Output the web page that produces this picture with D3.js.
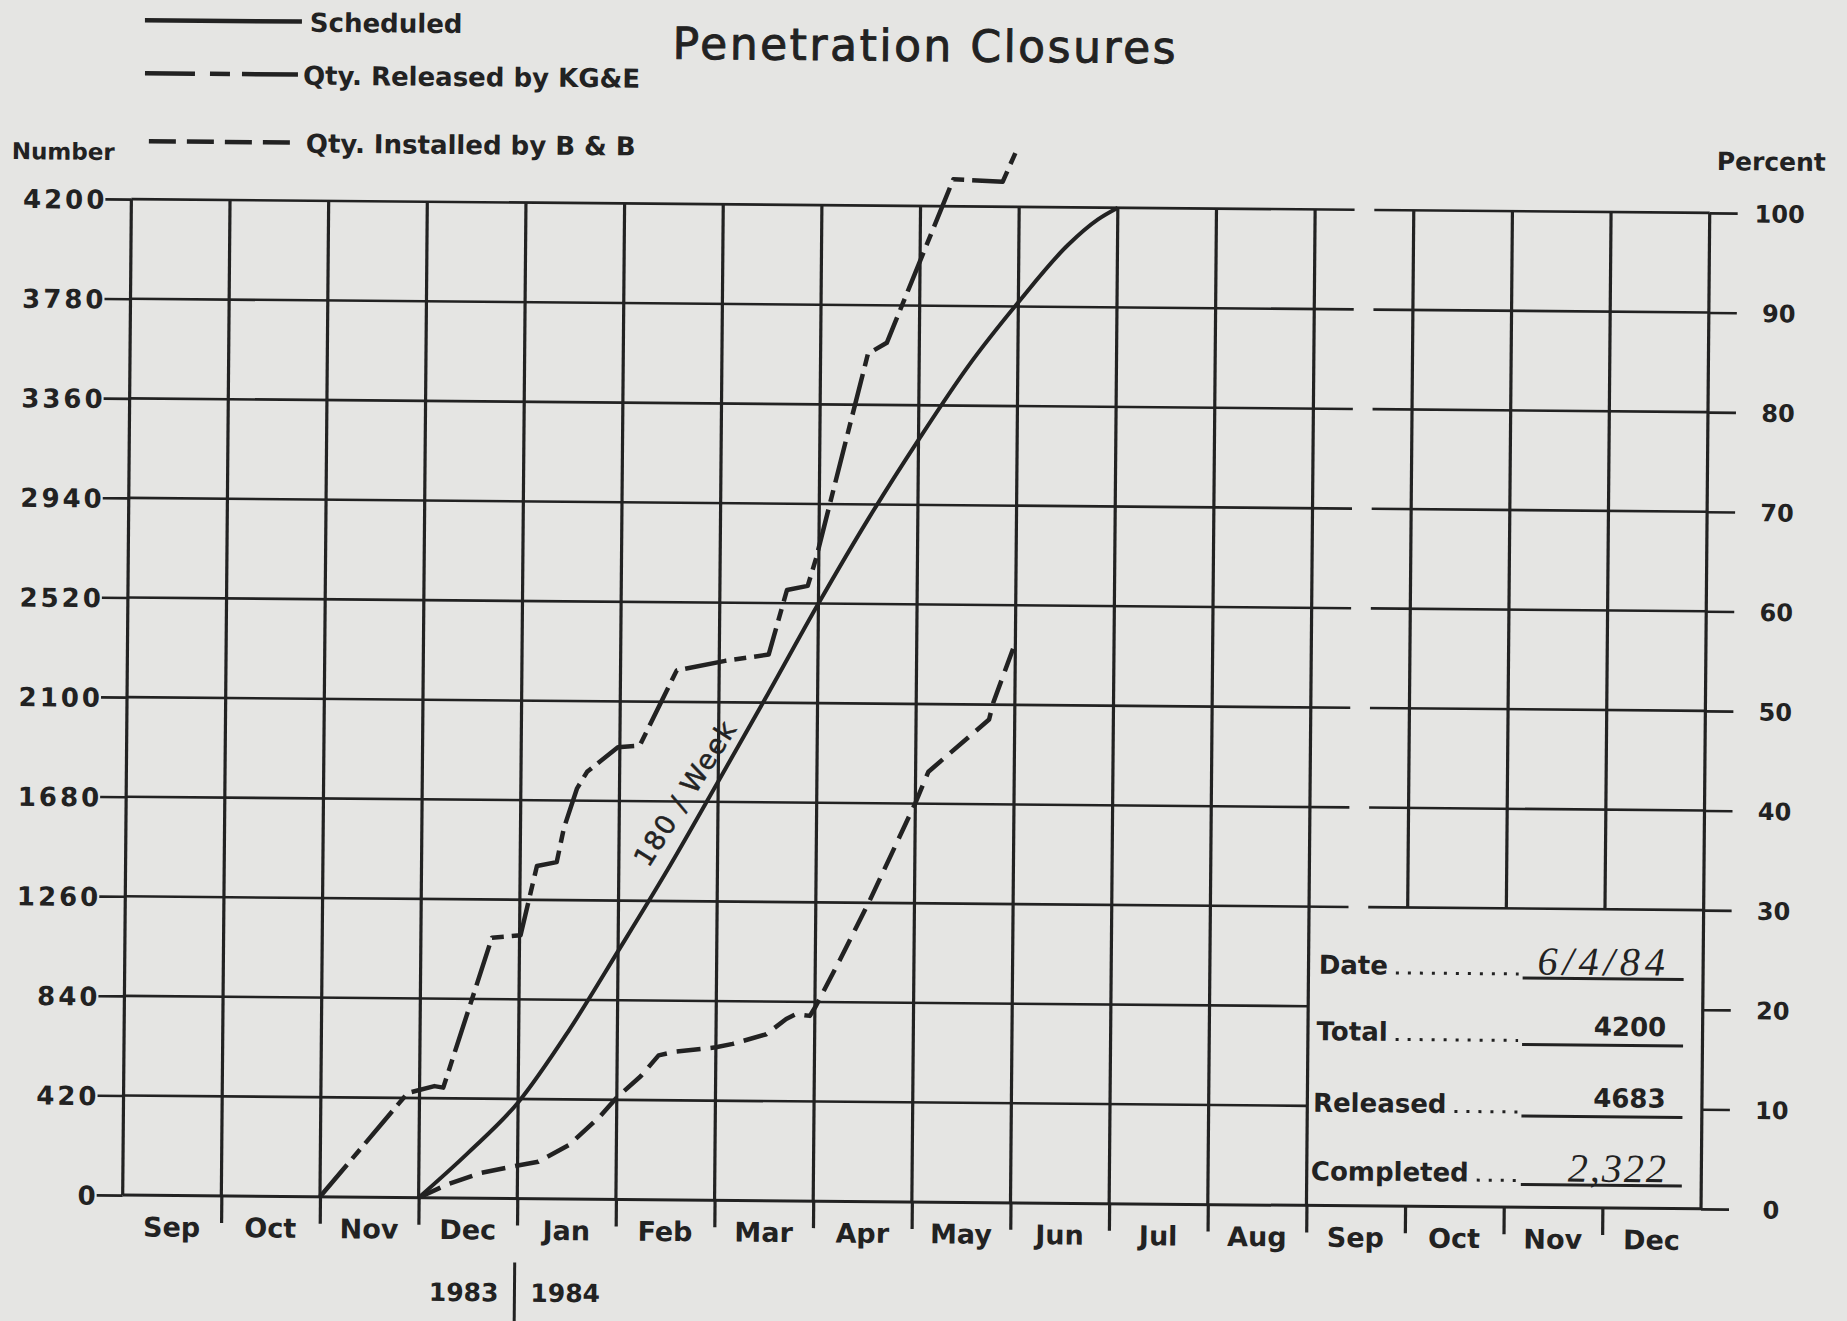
<!DOCTYPE html>
<html><head><meta charset="utf-8">
<script src="https://cdn.jsdelivr.net/npm/d3@7"></script>
<style>
html,body{margin:0;padding:0;background:#e5e5e3;}
svg{display:block;}
</style></head><body>
<script>
// ---------------- DATA ----------------
const title = "Penetration Closures";
const months = ["Sep","Oct","Nov","Dec","Jan","Feb","Mar","Apr","May","Jun","Jul","Aug","Sep","Oct","Nov","Dec"];
const years = ["1983","1984"];
const numberTicks = [0,420,840,1260,1680,2100,2520,2940,3360,3780,4200];
const percentTicks = [0,10,20,30,40,50,60,70,80,90,100];
const legendItems = ["Scheduled","Qty. Released by KG&E","Qty. Installed by B & B"];
// x = months elapsed since 1 Sep 1983, y = number of closures
const scheduled = [[3,0],[3.5,192],[4,405],[4.5,705],[5,1047],[5.5,1396],[6,1766],[6.5,2140],[7,2520],[7.5,2880],[8,3214],[8.5,3528],[9,3798],[9.5,4042],[9.8,4150],[10,4200]];
const released = [[2,0],[2.88,441],[3.15,471],[3.24,465],[3.72,1099],[4.01,1110],[4.17,1403],[4.37,1420],[4.44,1564],[4.57,1732],[4.67,1802],[4.98,1907],[5.2,1914],[5.57,2233],[6.06,2275],[6.5,2303],[6.68,2576],[6.89,2594],[6.97,2707],[7.48,3575],[7.67,3622],[8.33,4314],[8.83,4305],[8.97,4440]];
const installed = [[3,0],[3.29,57],[3.63,107],[3.95,135],[4.21,156],[4.52,228],[4.83,349],[5.0,430],[5.24,520],[5.42,609],[5.57,624],[6.0,645],[6.17,660],[6.51,702],[6.71,767],[6.81,788],[6.95,781],[7.01,823],[7.25,1019],[7.54,1264],[8.0,1682],[8.13,1815],[8.74,2037],[8.78,2107],[8.98,2340]];
const rateLabel = "180 / Week";
const summaryLabels = ["Date","Total","Released","Completed"];
const summaryValues = ["6/4/84","4200","4683","2,322"];
const totalClosures = 4200;
const boxFromMonth = 12;     // summary box starts at Sep 1984
const boxTopValue = 1260;    // summary box top (30 %)

// ---------------- LAYOUT ----------------
const W = 1847, H = 1321;
const X0 = 127, X1 = 1705.4, Y0 = 206, Y1 = 1202;
const INK = "#222222";
const FONT = "'DejaVu Sans', sans-serif";

const svg = d3.select("body").append("svg").attr("width", W).attr("height", H);
svg.append("rect").attr("width", W).attr("height", H).attr("fill", "#e5e5e3");
const root = svg.append("g").attr("transform", "rotate(0.5 916 704)");

const x = d3.scaleLinear().domain([0, months.length]).range([X0, X1]);
const y = d3.scaleLinear().domain([0, totalClosures]).range([Y1, Y0]);
const yPct = d3.scaleLinear().domain([0, 100]).range([Y1, Y0]);
const xBand = d3.scaleBand().domain(d3.range(months.length)).range([X0, X1]);

// ---- horizontal grid ----
const grid = root.append("g").attr("stroke", INK).attr("fill", "none");
numberTicks.forEach(v => {
  if (v === 0) return;
  const yy = y(v);
  if (v < boxTopValue) {
    grid.append("line").attr("x1", X0).attr("x2", x(boxFromMonth)).attr("y1", yy).attr("y2", yy).attr("stroke-width", 2.6);
  } else {
    grid.append("line").attr("x1", X0).attr("x2", x(12.4)).attr("y1", yy).attr("y2", yy).attr("stroke-width", 2.6);
    grid.append("line").attr("x1", x(12.6)).attr("x2", X1).attr("y1", yy).attr("y2", yy).attr("stroke-width", 2.6);
  }
});
grid.append("line").attr("x1", X0).attr("x2", X1).attr("y1", Y1).attr("y2", Y1).attr("stroke-width", 3);

// ---- vertical grid ----
d3.range(months.length + 1).forEach(m => {
  const inBox = m > boxFromMonth && m < months.length;
  grid.append("line").attr("x1", x(m)).attr("x2", x(m))
    .attr("y1", Y0).attr("y2", inBox ? y(boxTopValue) : Y1).attr("stroke-width", 3.2);
});

function styleAxis(g, size, weight, ls) {
  g.select(".domain").remove();
  g.attr("color", INK);
  g.selectAll("line").attr("stroke-width", 2.6);
  g.selectAll("text").attr("font-family", FONT).attr("font-size", size)
    .attr("font-weight", weight).attr("letter-spacing", ls).attr("fill", INK);
}

// ---- left axis (Number) ----
const left = root.append("g").attr("transform", `translate(${X0},0)`)
  .call(d3.axisLeft(y).tickValues(numberTicks).tickSize(26).tickPadding(-2).tickFormat(d => String(d)));
styleAxis(left, 26, "bold", 3);
left.selectAll("text").attr("dy", "0.36em");

// ---- right axis (Percent) ----
const right = root.append("g").attr("transform", `translate(${X1},0)`)
  .call(d3.axisRight(yPct).tickValues(percentTicks).tickSize(28).tickFormat(d => String(d)));
styleAxis(right, 24, "bold", 0);
right.selectAll("text").attr("x", 70).attr("text-anchor", "middle").attr("dy", "0.36em");

// ---- bottom month boundary ticks ----
const bTicks = root.append("g").attr("transform", `translate(0,${Y1})`)
  .call(d3.axisBottom(x).tickValues(d3.range(1, months.length)).tickSize(27).tickFormat(""));
styleAxis(bTicks, 10, "normal", 0);
bTicks.selectAll("line").attr("stroke-width", 3.2);

// ---- month labels ----
const mLab = root.append("g").attr("transform", `translate(0,${Y1})`)
  .call(d3.axisBottom(xBand).tickSize(0).tickPadding(22).tickFormat(i => months[i]));
styleAxis(mLab, 27, "bold", 0);

// ---- year labels ----
const janX = x(4);
root.append("line").attr("x1", janX - 2).attr("x2", janX - 2).attr("y1", Y1 + 64).attr("y2", H + 10)
  .attr("stroke", INK).attr("stroke-width", 3);
root.append("text").attr("x", janX - 18).attr("y", Y1 + 103).attr("text-anchor", "end")
  .attr("font-family", FONT).attr("font-size", 25).attr("font-weight", "bold").attr("fill", INK).text(years[0]);
root.append("text").attr("x", janX + 14).attr("y", Y1 + 103).attr("text-anchor", "start")
  .attr("font-family", FONT).attr("font-size", 25).attr("font-weight", "bold").attr("fill", INK).text(years[1]);

// ---- axis titles ----
root.append("text").attr("x", 7).attr("y", 167).attr("font-family", FONT).attr("font-size", 23)
  .attr("font-weight", "bold").attr("fill", INK).text("Number");
root.append("text").attr("x", 1712).attr("y", 163).attr("font-family", FONT).attr("font-size", 25)
  .attr("font-weight", "bold").attr("fill", INK).text("Percent");

// ---- title ----
root.append("text").attr("x", 667).attr("y", 61).attr("font-family", FONT).attr("font-size", 44)
  .attr("letter-spacing", 2.5).attr("fill", INK).attr("stroke", INK).attr("stroke-width", 0.9).text(title);

// ---- series ----
const lineFn = d3.line().x(d => x(d[0])).y(d => y(d[1]));
const series = root.append("g").attr("fill", "none").attr("stroke", INK).attr("stroke-linejoin", "round");
series.append("path").datum(scheduled).attr("d", d3.line().x(d => x(d[0])).y(d => y(d[1])).curve(d3.curveMonotoneX))
  .attr("stroke-width", 4);
series.append("path").datum(released).attr("d", lineFn)
  .attr("stroke-width", 4.5).attr("stroke-dasharray", "42 8 12 8");
series.append("path").datum(installed).attr("d", lineFn)
  .attr("stroke-width", 4.5).attr("stroke-dasharray", "24 10");

// ---- rate label ----
root.append("text").attr("transform", "translate(686,795) rotate(-58)")
  .attr("text-anchor", "middle").attr("dy", "0.35em")
  .attr("font-family", FONT).attr("font-size", 27).attr("letter-spacing", 1.5).attr("fill", INK)
  .attr("stroke", INK).attr("stroke-width", 0.5).text(rateLabel);

// ---- legend ----
const legY = [27, 80, 148];
const legDash = [null, "50 15 20 12 57", "27 11"];
const legX = [[139, 296], [139.5, 292.5], [144, 290]];
const legTX = [304, 297.5, 301];
legendItems.forEach((t, i) => {
  const l = root.append("line").attr("x1", legX[i][0]).attr("x2", legX[i][1]).attr("y1", legY[i]).attr("y2", legY[i])
    .attr("stroke", INK).attr("stroke-width", 4.5);
  if (legDash[i]) l.attr("stroke-dasharray", legDash[i]);
  root.append("text").attr("x", legTX[i]).attr("y", legY[i] + 10).attr("font-family", FONT).attr("font-size", 26)
    .attr("font-weight", "bold").attr("fill", INK).text(t);
});

// ---- summary box ----
const boxTop = y(boxTopValue);
const rowBase = [boxTop + 67, boxTop + 133.5, boxTop + 205, boxTop + 273.5];
const rowX = [1321, 1319.5, 1316.5, 1315];
const ulX0 = 1525, ulX1 = 1686;
summaryLabels.forEach((lab, i) => {
  const t = root.append("text").attr("x", rowX[i]).attr("y", rowBase[i]).attr("font-family", FONT)
    .attr("font-size", 26).attr("font-weight", "bold").attr("fill", INK).text(lab);
  const end = rowX[i] + t.node().getComputedTextLength();
  root.append("line").attr("x1", end + 8).attr("x2", ulX0 - 4).attr("y1", rowBase[i] - 1.5).attr("y2", rowBase[i] - 1.5)
    .attr("stroke", INK).attr("stroke-width", 3).attr("stroke-dasharray", "3 9");
  root.append("line").attr("x1", ulX0).attr("x2", ulX1).attr("y1", rowBase[i] + 2.5).attr("y2", rowBase[i] + 2.5)
    .attr("stroke", INK).attr("stroke-width", 3);
  const hand = (i === 0 || i === 3);
  const v = root.append("text").attr("x", hand ? 1672 : 1669).attr("y", rowBase[i] - (hand ? 1 : 7))
    .attr("text-anchor", "end").attr("fill", INK).text(summaryValues[i]);
  if (hand) v.attr("font-family", "'Liberation Serif', serif").attr("font-style", "italic")
    .attr("font-size", 40).attr("letter-spacing", i === 0 ? 5 : 2).attr("font-weight", "normal");
  else v.attr("font-family", FONT).attr("font-size", 26).attr("font-weight", "bold");
});
</script>
</body></html>
